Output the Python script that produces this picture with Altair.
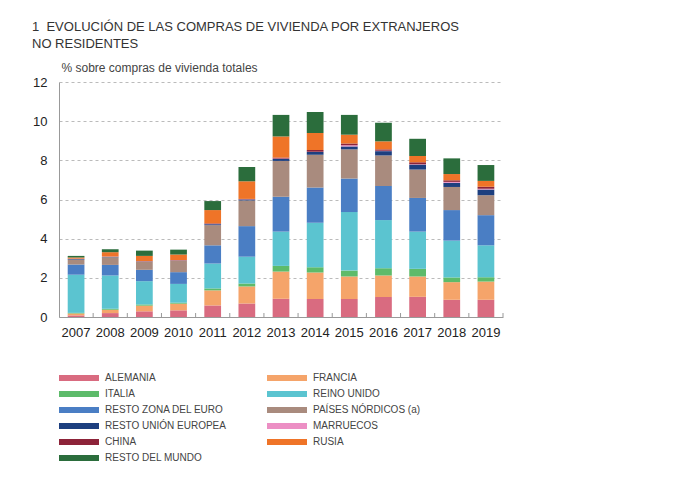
import altair as alt
import pandas as pd

years = ["2007", "2008", "2009", "2010", "2011", "2012", "2013",
         "2014", "2015", "2016", "2017", "2018", "2019"]

countries = ["ALEMANIA", "FRANCIA", "ITALIA", "REINO UNIDO",
             "RESTO ZONA DEL EURO", "PAÍSES NÓRDICOS (a)",
             "RESTO UNIÓN EUROPEA", "MARRUECOS", "CHINA", "RUSIA",
             "RESTO DEL MUNDO"]

alemania = [0.08, 0.20, 0.29, 0.34, 0.59, 0.69, 0.93, 0.92, 0.92, 1.02, 1.03, 0.88, 0.88]
francia = [0.10, 0.17, 0.29, 0.34, 0.77, 0.87, 1.39, 1.35, 1.15, 1.10, 1.04, 0.90, 0.93]
italia = [0.03, 0.05, 0.06, 0.05, 0.10, 0.15, 0.29, 0.27, 0.30, 0.37, 0.39, 0.24, 0.22]
reino_unido = [1.95, 1.70, 1.19, 0.96, 1.27, 1.37, 1.75, 2.27, 2.99, 2.46, 1.90, 1.88, 1.63]
resto_zona_euro = [0.52, 0.54, 0.58, 0.60, 0.93, 1.56, 1.78, 1.80, 1.71, 1.74, 1.72, 1.56, 1.54]
paises_nordicos = [0.25, 0.39, 0.40, 0.57, 1.03, 1.31, 1.83, 1.68, 1.49, 1.56, 1.45, 1.18, 1.02]
resto_ue = [0.03, 0.02, 0.02, 0.02, 0.05, 0.05, 0.10, 0.13, 0.15, 0.22, 0.25, 0.21, 0.29]
marruecos = [0.01, 0.01, 0.01, 0.01, 0.01, 0.01, 0.02, 0.02, 0.06, 0.02, 0.02, 0.05, 0.04]
china = [0.01, 0.01, 0.01, 0.01, 0.03, 0.02, 0.05, 0.09, 0.09, 0.07, 0.10, 0.08, 0.10]
rusia = [0.06, 0.22, 0.27, 0.29, 0.68, 0.90, 1.08, 0.86, 0.45, 0.41, 0.32, 0.32, 0.30]
resto_mundo = [0.08, 0.15, 0.27, 0.25, 0.46, 0.73, 1.10, 1.08, 1.01, 0.95, 0.88, 0.80, 0.81]

series = [alemania, francia, italia, reino_unido, resto_zona_euro,
          paises_nordicos, resto_ue, marruecos, china, rusia, resto_mundo]

colors = ["#d96b80", "#f5a46a", "#5dbb6a", "#5bc4d0", "#4a7ec4", "#a98b7e",
          "#1d3f7f", "#ec8fc4", "#8d2339", "#ef7428", "#2b6d3c"]

rows = []
for i, (name, vals) in enumerate(zip(countries, series)):
    for yr, v in zip(years, vals):
        rows.append({"year": yr, "country": name, "value": v, "idx": i})
df = pd.DataFrame(rows)

FONT = "Liberation Sans"
W, H = 444, 235
PI, PO = 0.51, 0.255
step = W / (len(years) - PI + 2 * PO)
half_gap = step * PO

xscale = alt.Scale(paddingInner=PI, paddingOuter=PO)
x_axis = alt.Axis(title=None, labelAngle=0, ticks=False, domain=True,
                  domainColor="#999", labelFontSize=13, labelColor="#222",
                  labelPadding=9, labelFont=FONT, grid=False)

bars = alt.Chart(df).mark_bar().encode(
    x=alt.X("year:N", sort=years, scale=xscale, axis=x_axis),
    y=alt.Y("value:Q", stack="zero", scale=alt.Scale(domain=[0, 12], nice=False),
            axis=alt.Axis(values=[0, 2, 4, 6, 8, 10, 12],
                          title="% sobre compras de vivienda totales",
                          titleAngle=0, titleAlign="left", titleBaseline="alphabetic",
                          titleX=2, titleY=-11, titleFontSize=12,
                          titleFontWeight="normal", titleColor="#444", titleFont=FONT,
                          labelFontSize=13, labelColor="#222", labelPadding=12,
                          labelFont=FONT, ticks=False, domainColor="#999",
                          grid=True, gridDash=[3, 3], gridColor="#bbb")),
    color=alt.Color("country:N", scale=alt.Scale(domain=countries, range=colors),
                    legend=alt.Legend(title=None, orient="none", legendX=15, legendY=291,
                                      columns=2, direction="horizontal",
                                      symbolType="M-4,-0.6L4,-0.6L4,0.6L-4,0.6Z",
                                      symbolSize=100, symbolStrokeWidth=0,
                                      labelFontSize=10, labelColor="#444",
                                      labelFont=FONT,
                                      rowPadding=6, columnPadding=41, labelOffset=21,
                                      padding=0, labelLimit=300)),
    order=alt.Order("idx:Q", sort="ascending"),
)

tick_df = pd.DataFrame({"year": years})
ticks = alt.Chart(tick_df).mark_rule(color="#999", strokeWidth=1,
                                     xOffset=half_gap).encode(
    x=alt.X("year:N", sort=years, scale=xscale, bandPosition=1, axis=x_axis),
    y=alt.value(H), y2=alt.value(H - 4),
)

chart = alt.layer(bars, ticks).properties(
    width=W, height=H, background="white",
    title=alt.TitleParams(
        text=["1\u00a0\u00a0EVOLUCIÓN DE LAS COMPRAS DE VIVIENDA POR EXTRANJEROS",
              "\u00a0\u00a0\u00a0\u00a0NO RESIDENTES"],
        anchor="start", frame="group", dx=-27, fontSize=13, fontWeight="normal",
        color="#333", font=FONT, lineHeight=17, offset=10),
    autosize=alt.AutoSizeParams(type="none"),
    padding={"left": 51, "top": 74, "right": 179, "bottom": 170},
).configure(
    view=alt.ViewConfig(stroke="transparent", strokeWidth=0, strokeOpacity=0),
    style={"cell": {"stroke": "transparent", "strokeWidth": 0}},
)

chart.save("out.html", embed_options={"renderer": "svg", "actions": False})
